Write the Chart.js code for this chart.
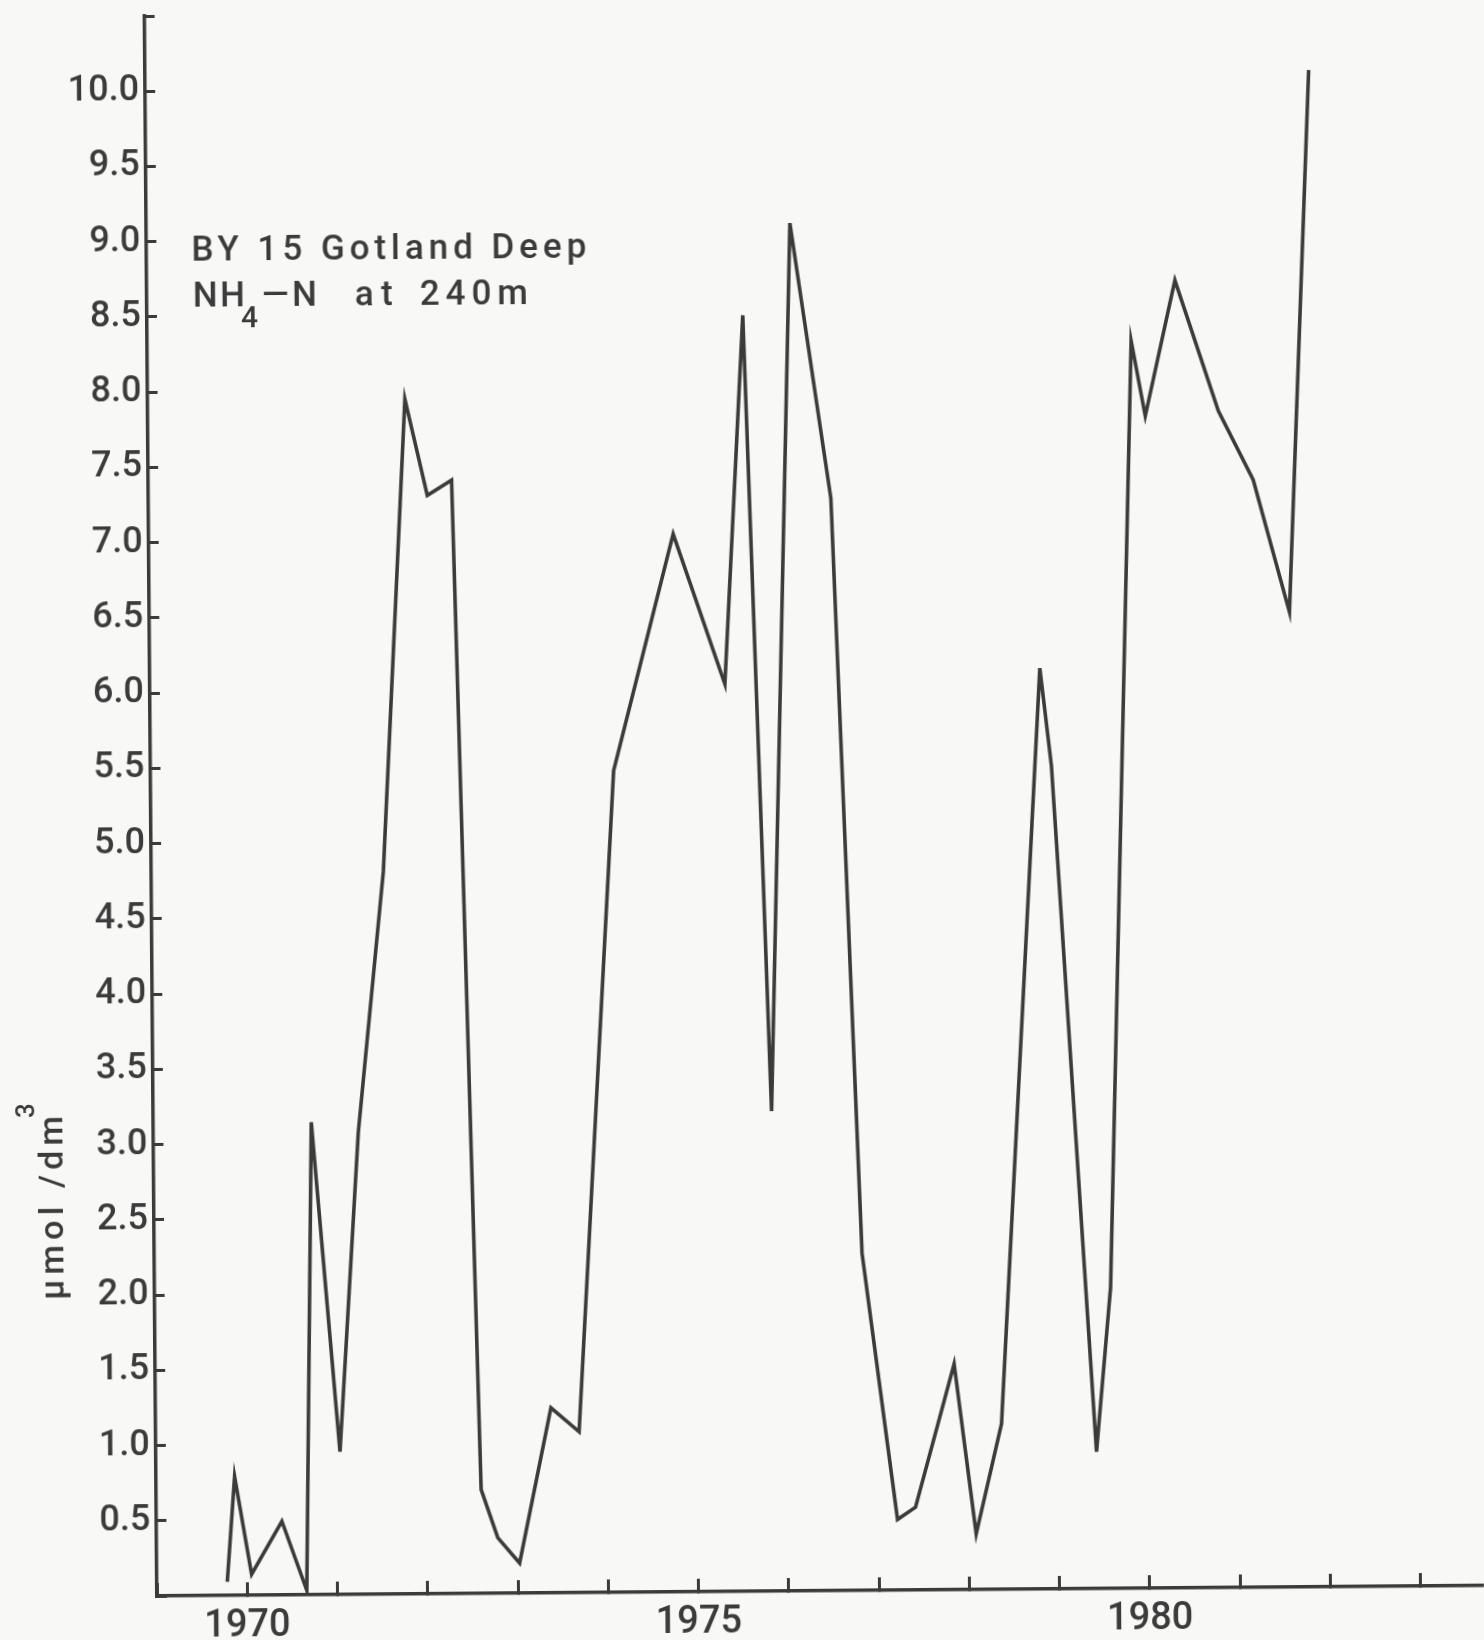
<!DOCTYPE html>
<html>
<head>
<meta charset="utf-8">
<title>BY 15 Gotland Deep - NH4-N at 240m</title>
<script src="https://cdn.jsdelivr.net/npm/chart.js@4/dist/chart.umd.min.js"></script>
<style>
    html, body { margin: 0; padding: 0; background: #f8f8f6; overflow: hidden; }
    /* the scanned figure sits slightly askew */
    #wrap { width: 1484px; height: 1644px; transform: rotate(-0.45deg); transform-origin: 157px 1596px; }
</style>
</head>
<body>
<div id="wrap"><canvas id="nh4Chart" width="1484" height="1644"></canvas></div>
<script>
// sampling dates (decimal years) and NH4-N concentrations
const sampleYears = [1969.78, 1969.87, 1970.05, 1970.39, 1970.66, 1970.75, 1971.04, 1971.27, 1971.57, 1971.85,
    1972.09, 1972.36, 1972.60, 1972.78, 1973.02, 1973.38, 1973.69, 1974.13, 1974.81, 1975.37,
    1975.60, 1975.85, 1976.13, 1976.56, 1976.84, 1977.21, 1977.41, 1977.85, 1978.08, 1978.37,
    1978.86, 1978.98, 1979.42, 1979.59, 1979.90, 1980.05, 1980.39, 1980.86, 1981.24, 1981.63, 1981.89];
const nh4Values = [0.09, 0.79, 0.14, 0.49, 0.03, 3.14, 0.95, 3.07, 4.80, 7.94,
    7.30, 7.40, 0.69, 0.37, 0.20, 1.23, 1.07, 5.46, 7.03, 6.03,
    8.48, 3.19, 9.09, 7.26, 2.24, 0.47, 0.55, 1.50, 0.37, 1.10,
    6.12, 5.47, 0.91, 2.00, 8.29, 7.79, 8.69, 7.82, 7.36, 6.48, 10.08];
const labelledYears = [1970, 1975, 1980];
const yLabelMin = 0.5;
const yLabelMax = 10.0;

const ink = '#3b3b3b';
const face = "'Roboto', 'Liberation Sans', sans-serif";

// draw a string stretched with letter spacing so it spans a given width
function fitText(ctx, text, x, y, width) {
    ctx.letterSpacing = '0px';
    const w = ctx.measureText(text).width;
    const gap = text.length > 1 ? (width - w) / (text.length - 1) : 0;
    ctx.letterSpacing = gap.toFixed(2) + 'px';
    ctx.fillText(text, x, y);
    ctx.letterSpacing = '0px';
}

const figureText = {
    id: 'figureText',
    afterDraw(chart) {
        const { ctx, chartArea } = chart;
        ctx.save();
        ctx.fillStyle = ink;
        ctx.textAlign = 'left';
        ctx.textBaseline = 'alphabetic';

        // station label
        ctx.font = '500 35px ' + face;
        fitText(ctx, 'BY 15 Gotland Deep', 202, 261, 395);
        fitText(ctx, 'NH', 203, 307, 52);
        fitText(ctx, '\u2014N', 272, 307, 55);
        fitText(ctx, 'at', 365, 307, 38);
        fitText(ctx, '240m', 430, 307, 108);
        ctx.font = '500 30px ' + face;
        ctx.fillText('4', 251, 328);

        // y axis title
        ctx.translate(chartArea.left - 91, chartArea.bottom - 297);
        ctx.rotate(-Math.PI / 2);
        ctx.font = '500 34px ' + face;
        fitText(ctx, '\u00b5mol /dm', 0, 0, 184);
        ctx.font = '500 26px ' + face;
        ctx.fillText('3', 182, -28);
        ctx.restore();
    }
};

// unlabelled ticks get an empty line list so they take no room
const noLabel = [];

document.addEventListener('DOMContentLoaded', () => {
    const ctx = document.getElementById('nh4Chart').getContext('2d');
    new Chart(ctx, {
        type: 'line',
        data: {
            datasets: [{
                data: sampleYears.map((yr, i) => ({ x: yr, y: nh4Values[i] })),
                borderColor: ink,
                borderWidth: 3.6,
                pointRadius: 0,
                tension: 0,
                fill: false
            }]
        },
        options: {
            responsive: false,
            animation: false,
            devicePixelRatio: 1,
            layout: { padding: 0 },
            plugins: {
                legend: { display: false },
                tooltip: { enabled: false }
            },
            scales: {
                x: {
                    type: 'linear',
                    min: 1969,
                    max: 1983.7,
                    afterFit: s => { s.height = 48; },
                    border: { display: true, color: ink, width: 3.5 },
                    grid: { drawOnChartArea: false, drawTicks: true, tickLength: -13, tickWidth: 3, tickColor: ink },
                    ticks: {
                        stepSize: 1,
                        includeBounds: false,
                        autoSkip: false,
                        maxRotation: 0,
                        padding: 22,
                        color: ink,
                        font: { family: face, size: 38, weight: '500' },
                        callback: v => labelledYears.includes(v) ? String(v) : noLabel
                    }
                },
                y: {
                    min: 0,
                    max: 10.5,
                    afterFit: s => { s.width = 157; },
                    border: { display: true, color: ink, width: 3.5 },
                    grid: { drawOnChartArea: false, drawTicks: true, tickLength: -10, tickWidth: 3, tickColor: ink },
                    ticks: {
                        stepSize: 0.5,
                        includeBounds: false,
                        autoSkip: false,
                        padding: 16,
                        color: ink,
                        font: { family: face, size: 36, weight: '500' },
                        callback: v => (v >= yLabelMin && v <= yLabelMax) ? v.toFixed(1) : noLabel
                    }
                }
            }
        },
        plugins: [figureText]
    });
});
</script>
</body>
</html>
